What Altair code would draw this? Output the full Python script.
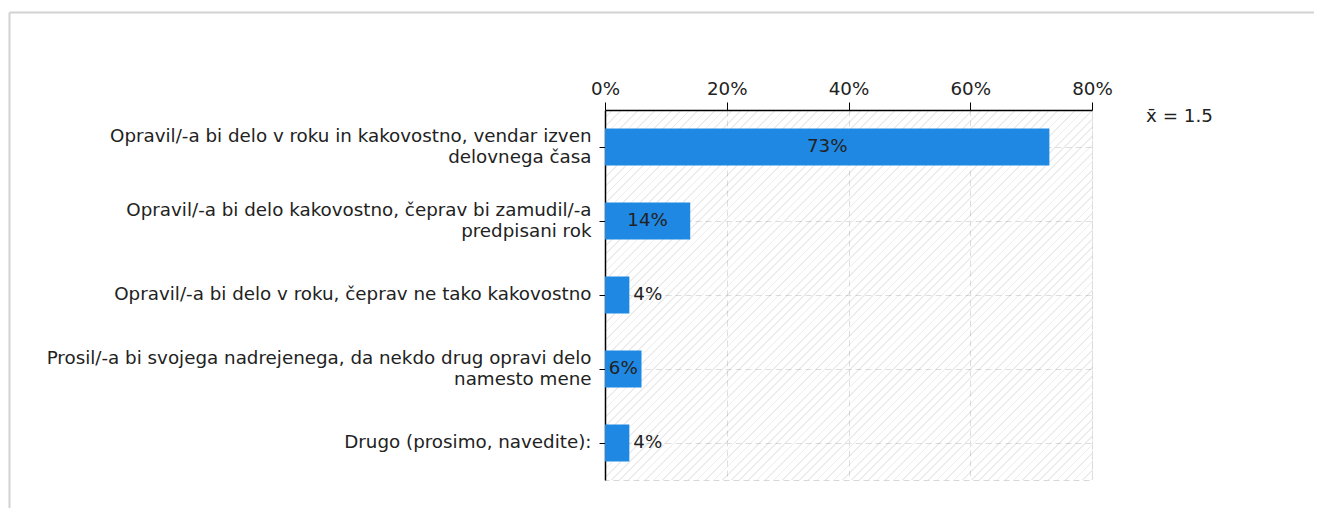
import altair as alt
import pandas as pd

# ---- data ----
categories = [
    "Opravil/-a bi delo v roku in kakovostno, vendar izven|delovnega časa",
    "Opravil/-a bi delo kakovostno, čeprav bi zamudil/-a|predpisani rok",
    "Opravil/-a bi delo v roku, čeprav ne tako kakovostno",
    "Prosil/-a bi svojega nadrejenega, da nekdo drug opravi delo|namesto mene",
    "Drugo (prosimo, navedite):",
]
values = [73, 14, 4, 6, 4]
x_ticks = [0, 20, 40, 60, 80]
mean_label = "x\u0304 = 1.5"

df = pd.DataFrame({"cat": categories, "value": values})
df["label"] = df["value"].astype(str) + "%"
df["inside"] = df["value"] >= 5
df["mid"] = df["value"] / 2

FONT = "DejaVu Sans"
FS = 18.3
BAR = "#1f88e3"
TXT = "#222222"
W, H = 487, 370
LH = 21

# hatch pattern for plot background (decorative gradient stripes)
span_px = (W + H) / 2 ** 0.5
period_px = 6.0
line_px = 1.2
n = int(span_px / period_px)
p = 1.0 / n
w = line_px / span_px
bg, ln = "rgba(255,255,255,0)", "rgba(0,0,0,0.075)"
stops = []
for k in range(n):
    o = k * p
    stops += [
        {"offset": round(o, 6), "color": bg},
        {"offset": round(o + p - w, 6), "color": bg},
        {"offset": round(o + p - w, 6), "color": ln},
        {"offset": round(min(o + p, 1.0), 6), "color": ln},
    ]
a = 1.0 / (1 + (H / W) ** 2) * (1 + H / W)
hatch = alt.LinearGradient(
    gradient="linear",
    x1=0, y1=0, x2=a, y2=a * H / W,
    stops=[alt.GradientStop(offset=s["offset"], color=s["color"]) for s in stops],
)

y_enc = alt.Y(
    "cat:N",
    sort=categories,
    scale=alt.Scale(paddingInner=0.5, paddingOuter=0.25),
    axis=alt.Axis(
        title=None,
        labelExpr="split(datum.label, '|')",
        labelLineHeight=LH,
        labelLimit=0,
        labelPadding=8,
        labelOffset={
            "condition": {"test": "indexof(datum.label, '|') >= 0", "value": -LH / 2},
            "value": 0,
        },
        tickSize=6,
        tickColor="#000",
        domainColor="#000",
        domainWidth=1.5,
        grid=True,
        gridColor="#dedede",
        gridDash=[6, 4],
        bandPosition=0.5,
    ),
)
x_scale = alt.Scale(domain=[0, 80], nice=False)
x_axis = alt.Axis(
    orient="top",
    title=None,
    values=x_ticks,
    labelExpr="datum.value + '%'",
    labelFlush=False,
    tickSize=8,
    tickColor="#000",
    domainColor="#000",
    domainWidth=1.5,
    labelPadding=4,
    grid=True,
    gridColor="#dedede",
    gridDash=[6, 4],
)

one = alt.Data(values=[{"t": mean_label}])

bg_rect = alt.Chart(one).mark_rect(fill=hatch, strokeWidth=0).encode(
    x=alt.value(0), x2=alt.value(W), y=alt.value(0), y2=alt.value(H)
)

bars = alt.Chart(df).mark_bar(color=BAR).encode(
    x=alt.X("value:Q", scale=x_scale, axis=x_axis),
    y=y_enc,
)
text_in = alt.Chart(df).transform_filter("datum.inside").mark_text(
    font=FONT, fontSize=FS, color=TXT, align="center", baseline="middle"
).encode(x=alt.X("mid:Q", scale=x_scale), y=alt.Y("cat:N", sort=categories), text="label:N")
text_out = alt.Chart(df).transform_filter("!datum.inside").mark_text(
    font=FONT, fontSize=FS, color=TXT, align="left", baseline="middle", dx=4
).encode(x=alt.X("value:Q", scale=x_scale), y=alt.Y("cat:N", sort=categories), text="label:N")

mean_txt = alt.Chart(one).mark_text(
    font=FONT, fontSize=FS, color=TXT, align="left", baseline="middle"
).encode(x=alt.value(541), y=alt.value(7), text="t:N")

border_top = alt.Chart(one).mark_rule(color="#d2d2d2", strokeWidth=2).encode(
    x=alt.value(-595.5), x2=alt.value(720), y=alt.value(-97.5)
)
border_left = alt.Chart(one).mark_rule(color="#d2d2d2", strokeWidth=2).encode(
    x=alt.value(-595.5), y=alt.value(-97.5), y2=alt.value(400)
)

chart = (
    alt.layer(border_top, border_left, bg_rect, bars, text_in, text_out, mean_txt)
    .properties(
        width=W,
        height=H,
        autosize=alt.AutoSizeParams(type="none"),
        padding={"left": 597, "top": 102, "right": 222, "bottom": 28},
    )
    .configure_view(stroke="#d8d8d8", strokeDash=[6, 4])
    .configure_axis(labelFont=FONT, labelFontSize=FS, labelColor=TXT)
)

chart.save("out.html", embed_options={"renderer": "svg", "actions": False})
